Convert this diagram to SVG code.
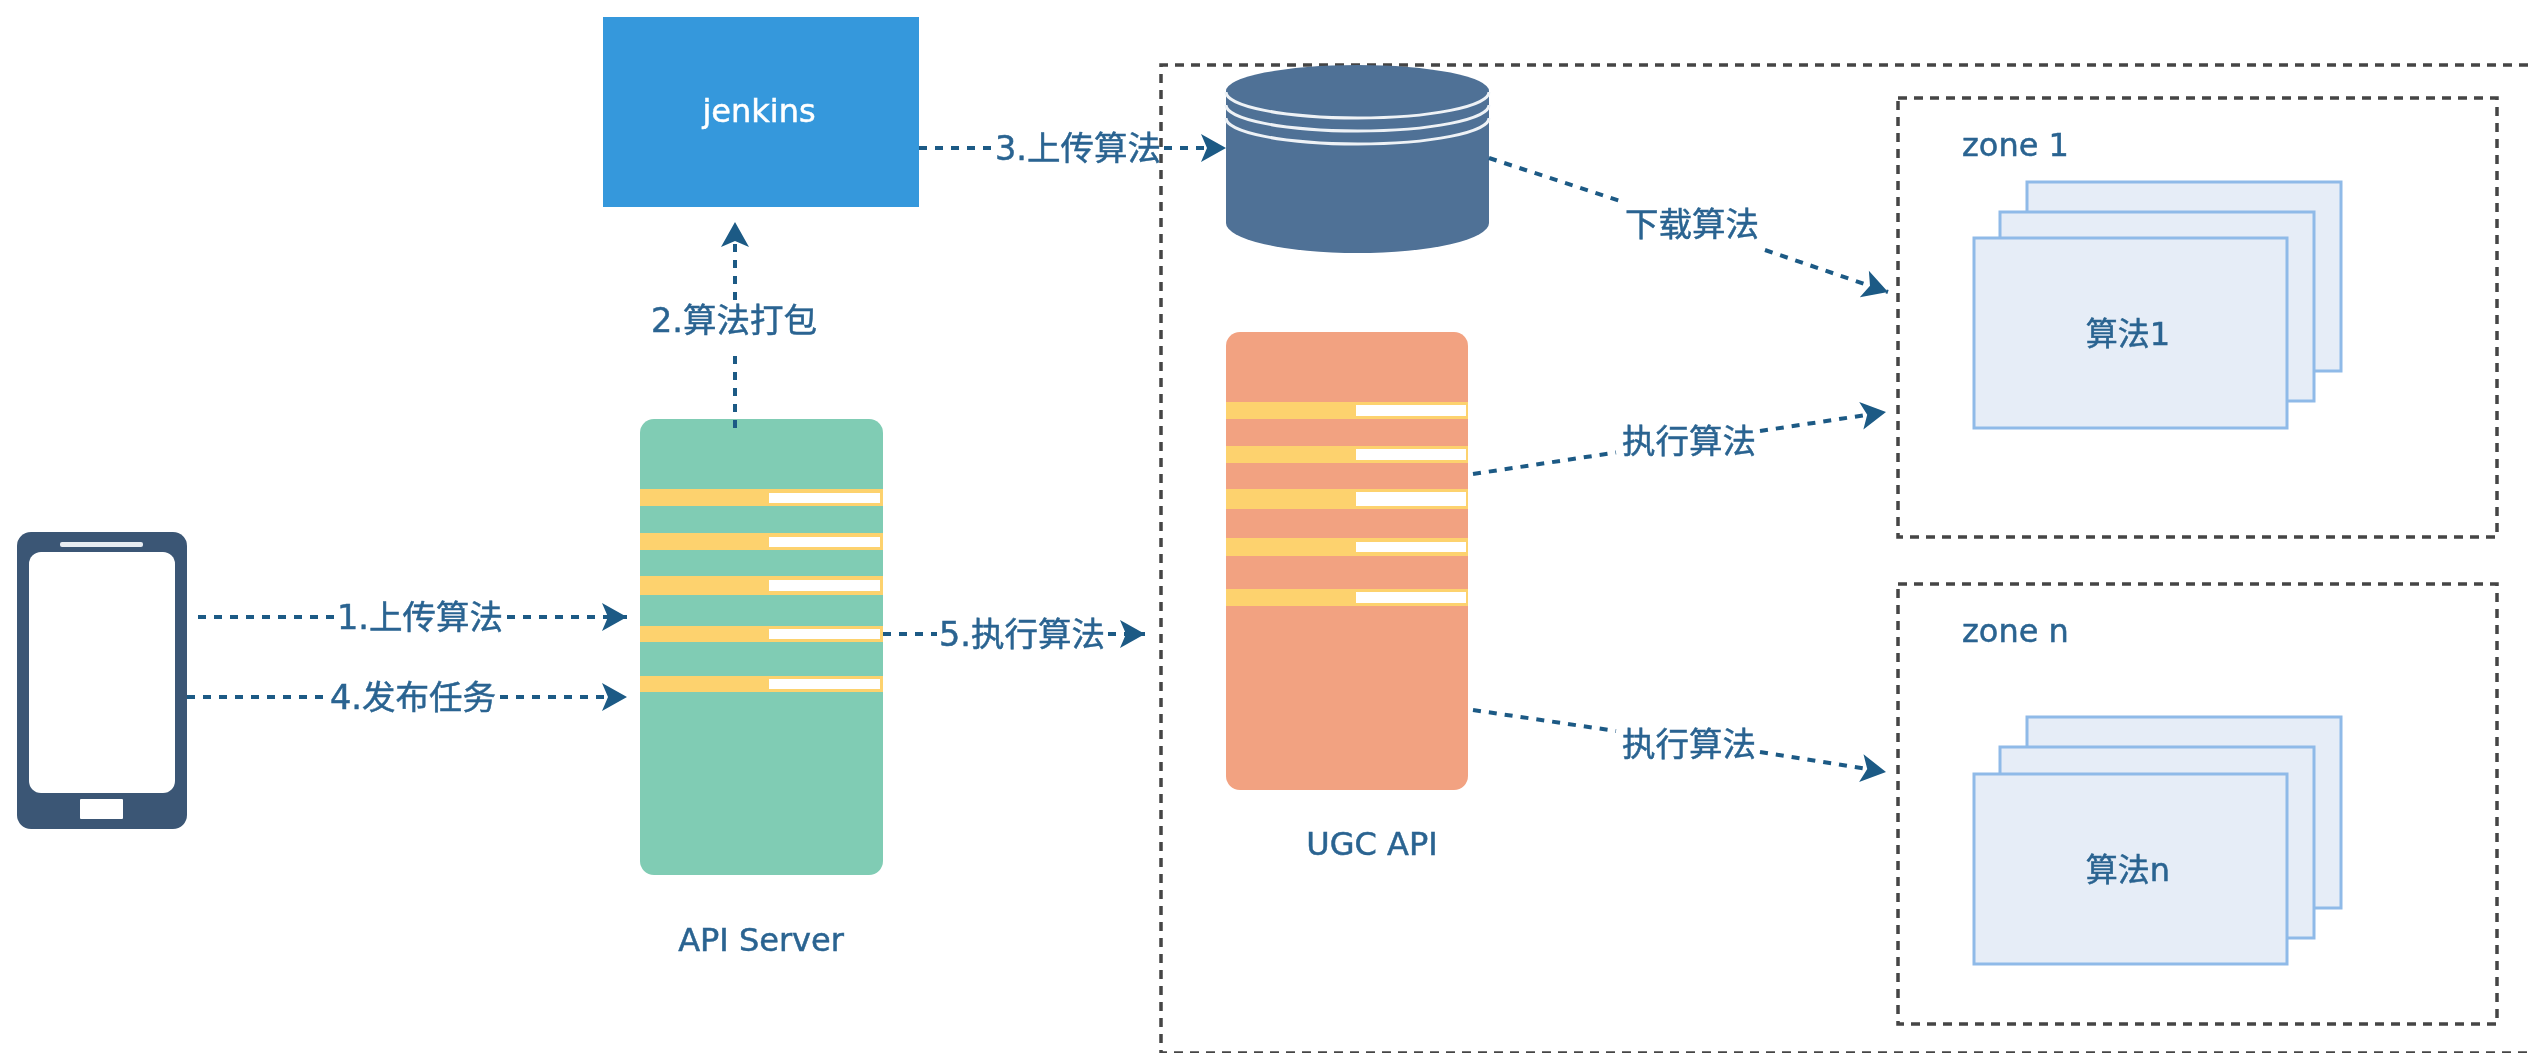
<svg xmlns="http://www.w3.org/2000/svg" width="2528" height="1055" viewBox="0 0 2528 1055">
<style>
text{font-family:"DejaVu Sans","Noto Sans CJK SC",sans-serif;font-size:32px;fill:#2a6491;stroke:#2a6491;stroke-width:.5}
.lb{font-size:33.5px}
.c{text-anchor:middle}
.flow{fill:none;stroke:#1f5a85;stroke-width:4;stroke-dasharray:8 8}
.arr{marker-end:url(#head)}
.zone{fill:none;stroke:#444;stroke-width:3.5;stroke-dasharray:9 7}
.card{fill:#e6edf7;stroke:#8fbae8;stroke-width:3}
.bar{fill:#fdd26e}
.slot{fill:#fff}
</style>
<defs>
<marker id="head" markerUnits="userSpaceOnUse" markerWidth="26" markerHeight="30" refX="25" refY="14" orient="auto" overflow="visible">
<path d="M0 0L25 14L0 28L6 14Z" fill="#1b5a85"/>
</marker>
<filter id="soft" x="0" y="0" width="100%" height="100%"><feGaussianBlur stdDeviation="0.7"/></filter>
</defs>
<rect width="2528" height="1055" fill="#fff"/>
<g filter="url(#soft)">
<g id="outer-boundary"><path class="zone" d="M2528 65H1161V1053H2528"/></g>
<g id="phone">
<rect x="17" y="532" width="170" height="297" rx="14" fill="#3b5674"/>
<rect x="29" y="552" width="146" height="241" rx="12" fill="#fff"/>
<rect x="60" y="542" width="83" height="5" rx="2" fill="#e8edf2"/>
<rect x="80" y="799" width="43" height="20" rx="1" fill="#fff"/>
</g>
<g id="api-server">
<rect x="640" y="419" width="243" height="456" rx="14" fill="#80ccb4"/>
<rect class="bar" x="640" y="489" width="243" height="17"/><rect class="slot" x="769" y="493" width="111" height="10"/>
<rect class="bar" x="640" y="533" width="243" height="17"/><rect class="slot" x="769" y="537" width="111" height="10"/>
<rect class="bar" x="640" y="576" width="243" height="19"/><rect class="slot" x="769" y="580" width="111" height="11"/>
<rect class="bar" x="640" y="626" width="243" height="16"/><rect class="slot" x="769" y="629" width="111" height="10"/>
<rect class="bar" x="640" y="676" width="243" height="16"/><rect class="slot" x="769" y="679" width="111" height="10"/>
<text x="761" y="951" class="c">API Server</text>
</g>
<g id="jenkins">
<rect x="603" y="17" width="316" height="190" fill="#3498dc"/>
<text x="759" y="122" class="c" style="fill:#fff;stroke:#fff">jenkins</text>
</g>
<g id="storage">
<path d="M1226 91V223A131.500 30 0 0 0 1489 223V91Z" fill="#4f7196"/>
<ellipse cx="1357.500" cy="91" rx="131.500" ry="26" fill="#4f7196"/>
<path d="M1226 92A131.500 26 0 0 0 1489 92M1226 105A131.500 26 0 0 0 1489 105M1226 118A131.500 26 0 0 0 1489 118" fill="none" stroke="#eef2f6" stroke-width="3"/>
</g>
<g id="ugc-api">
<rect x="1226" y="332" width="242" height="458" rx="14" fill="#f2a281"/>
<rect class="bar" x="1226" y="402" width="242" height="17"/><rect class="slot" x="1356" y="405" width="110" height="11"/>
<rect class="bar" x="1226" y="446" width="242" height="17"/><rect class="slot" x="1356" y="449" width="110" height="11"/>
<rect class="bar" x="1226" y="489" width="242" height="20"/><rect class="slot" x="1356" y="492" width="110" height="14"/>
<rect class="bar" x="1226" y="538" width="242" height="18"/><rect class="slot" x="1356" y="542" width="110" height="10"/>
<rect class="bar" x="1226" y="589" width="242" height="17"/><rect class="slot" x="1356" y="592" width="110" height="11"/>
<text x="1372" y="855" class="c">UGC API</text>
</g>
<g id="zone-1">
<rect class="zone" x="1898" y="98" width="599" height="439"/>
<text x="1962" y="156">zone 1</text>
<rect class="card" x="2027" y="182" width="314" height="189"/>
<rect class="card" x="2000" y="212" width="314" height="189"/>
<rect class="card" x="1974" y="238" width="313" height="190"/>
<text x="2128" y="345" class="c">算法1</text>
</g>
<g id="zone-n">
<rect class="zone" x="1898" y="584" width="599" height="440"/>
<text x="1962" y="642">zone n</text>
<rect class="card" x="2027" y="717" width="314" height="191"/>
<rect class="card" x="2000" y="747" width="314" height="191"/>
<rect class="card" x="1974" y="774" width="313" height="190"/>
<text x="2128" y="881" class="c">算法n</text>
</g>
<g id="connectors">
<path class="flow" d="M198 617H334"/><path class="flow arr" d="M507 617H627"/>
<path class="flow" d="M187 697H326"/><path class="flow arr" d="M500 697H627"/>
<path class="flow" d="M735 428V352"/><path class="flow arr" d="M735 300V222"/>
<path class="flow" d="M919 148H994"/><path class="flow arr" d="M1164 148H1226"/>
<path class="flow" d="M883 634H937"/><path class="flow arr" d="M1108 634H1145"/>
<path class="flow" d="M1489 158L1620 201"/><path class="flow arr" d="M1765 250L1888 292"/>
<path class="flow" d="M1473 474L1616 452.500"/><path class="flow arr" d="M1760 431L1886 412"/>
<path class="flow" d="M1473 710L1616 731"/><path class="flow arr" d="M1760 752L1886 772"/>
</g>
<g id="connector-labels">
<text class="lb" x="337" y="629">1.上传算法</text>
<text class="lb" x="330" y="709">4.发布任务</text>
<text class="lb" x="651" y="332">2.算法打包</text>
<text class="lb" x="995" y="160">3.上传算法</text>
<text class="lb" x="939" y="646">5.执行算法</text>
<text class="lb c" x="1692" y="236">下载算法</text>
<text class="lb c" x="1689" y="453">执行算法</text>
<text class="lb c" x="1689" y="756">执行算法</text>
</g>
</g>
</svg>
